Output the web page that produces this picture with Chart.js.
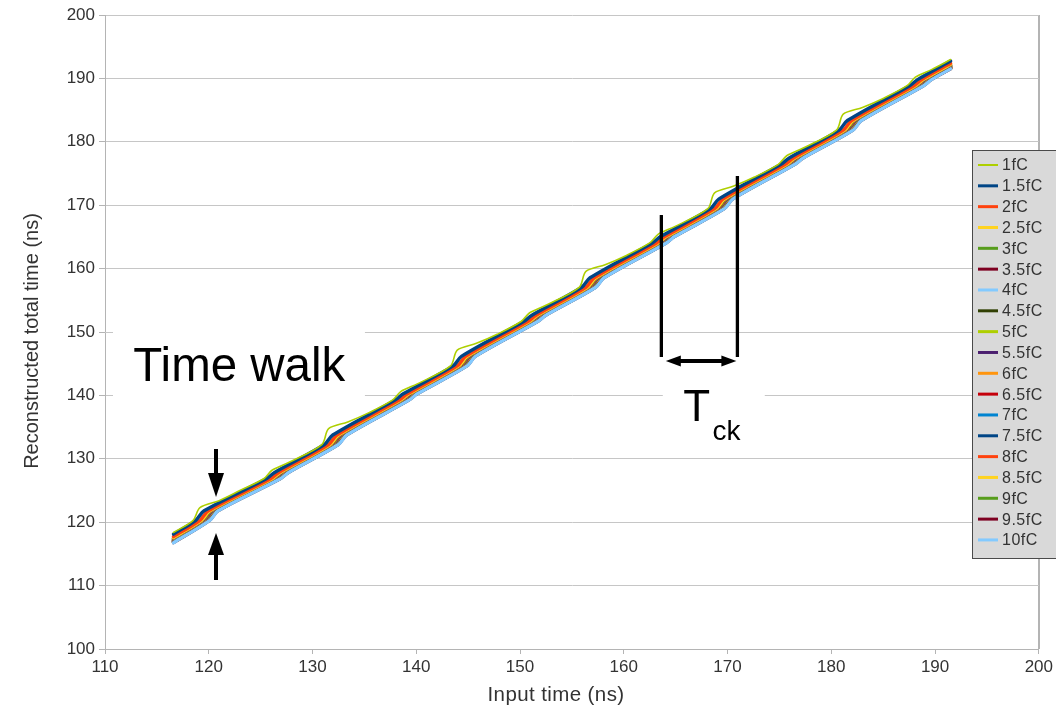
<!DOCTYPE html>
<html>
<head>
<meta charset="utf-8">
<script src="https://cdn.jsdelivr.net/npm/chart.js@4.4.1/dist/chart.umd.min.js"></script>
<style>
  html, body { margin: 0; padding: 0; background: #fff; }
  #wrap { position: relative; width: 1056px; height: 710px; }
  canvas { display: block; }
</style>
</head>
<body>
<div id="wrap"><canvas id="c" width="1056" height="710"></canvas></div>
<script>
// ---- data -------------------------------------------------------------
const qLabels = ['1fC','1.5fC','2fC','2.5fC','3fC','3.5fC','4fC','4.5fC','5fC','5.5fC',
                 '6fC','6.5fC','7fC','7.5fC','8fC','8.5fC','9fC','9.5fC','10fC'];

// input-time scan range (ns)
const scanRange = [116.6, 191.5];

// 1fC: input time (ns) and reconstructed total time (ns)
const input1fC = [116.6, 118.5, 119.15, 121.0, 123.0, 125.3, 126.1, 127.7,
                  130.9, 131.55, 133.4, 135.4, 137.7, 138.5, 140.1,
                  143.3, 143.95, 145.8, 147.8, 150.1, 150.9, 152.5,
                  155.7, 156.35, 158.2, 160.2, 162.5, 163.3, 164.9,
                  168.1, 168.75, 170.6, 172.6, 174.9, 175.7, 177.3,
                  180.5, 181.15, 183.0, 185.0, 187.3, 188.1, 189.7, 191.5];
const recon1fC = [118.38, 120.30, 122.30, 123.40, 125.00, 126.85, 128.20, 129.42,
                  132.25, 134.75, 135.81, 137.24, 139.25, 140.60, 141.82,
                  144.65, 147.15, 148.21, 149.64, 151.65, 153.00, 154.22,
                  157.05, 159.55, 160.61, 162.04, 164.05, 165.40, 166.62,
                  169.45, 171.95, 173.01, 174.44, 176.45, 177.80, 179.02,
                  181.85, 184.35, 185.41, 186.84, 188.85, 190.20, 191.42, 192.97];

// reconstructed time at the corners of each clock step (ns), shared by 1.5fC..10fC
const stairRecon = [120.30, 121.80, 126.85, 127.85, 132.25, 133.75, 139.25, 140.25,
                    144.65, 146.15, 151.65, 152.65, 157.05, 158.55, 164.05, 165.05,
                    169.45, 170.95, 176.45, 177.45, 181.85, 183.35, 188.85, 189.85];

// reconstructed time at the first / last input time, 1.5fC..10fC
const reconStart = [118.12, 117.72, 117.57, 117.45, 117.35, 117.27, 117.19, 117.13, 117.08,
                    117.03, 116.99, 116.95, 116.91, 116.88, 116.85, 116.82, 116.79, 116.76];
const reconEnd   = [192.74, 192.37, 192.23, 192.12, 192.03, 191.96, 191.89, 191.84, 191.79,
                    191.75, 191.71, 191.67, 191.64, 191.61, 191.58, 191.56, 191.53, 191.50];

// input time (ns) at which each charge reaches the step corners
const in1p5 = [118.75, 119.55, 125.55, 126.35, 131.15, 131.95, 137.95, 138.75, 143.55, 144.35, 150.35, 151.15,
               155.95, 156.75, 162.75, 163.55, 168.35, 169.15, 175.15, 175.95, 180.75, 181.55, 187.55, 188.35];
const in2   = [119.15, 119.95, 125.95, 126.75, 131.55, 132.35, 138.35, 139.15, 143.95, 144.75, 150.75, 151.55,
               156.35, 157.15, 163.15, 163.95, 168.75, 169.55, 175.55, 176.35, 181.15, 181.95, 187.95, 188.75];
const in2p5 = [119.3, 120.1, 126.1, 126.9, 131.7, 132.5, 138.5, 139.3, 144.1, 144.9, 150.9, 151.7,
               156.5, 157.3, 163.3, 164.1, 168.9, 169.7, 175.7, 176.5, 181.3, 182.1, 188.1, 188.9];
const in3   = [119.42, 120.22, 126.22, 127.02, 131.82, 132.62, 138.62, 139.42, 144.22, 145.02, 151.02, 151.82,
               156.62, 157.42, 163.42, 164.22, 169.02, 169.82, 175.82, 176.62, 181.42, 182.22, 188.22, 189.02];
const in3p5 = [119.52, 120.32, 126.32, 127.12, 131.92, 132.72, 138.72, 139.52, 144.32, 145.12, 151.12, 151.92,
               156.72, 157.52, 163.52, 164.32, 169.12, 169.92, 175.92, 176.72, 181.52, 182.32, 188.32, 189.12];
const in4   = [119.6, 120.4, 126.4, 127.2, 132.0, 132.8, 138.8, 139.6, 144.4, 145.2, 151.2, 152.0,
               156.8, 157.6, 163.6, 164.4, 169.2, 170.0, 176.0, 176.8, 181.6, 182.4, 188.4, 189.2];
const in4p5 = [119.67, 120.47, 126.47, 127.27, 132.07, 132.87, 138.87, 139.67, 144.47, 145.27, 151.27, 152.07,
               156.87, 157.67, 163.67, 164.47, 169.27, 170.07, 176.07, 176.87, 181.67, 182.47, 188.47, 189.27];
const in5   = [119.73, 120.53, 126.53, 127.33, 132.13, 132.93, 138.93, 139.73, 144.53, 145.33, 151.33, 152.13,
               156.93, 157.73, 163.73, 164.53, 169.33, 170.13, 176.13, 176.93, 181.73, 182.53, 188.53, 189.33];
const in5p5 = [119.78, 120.58, 126.58, 127.38, 132.18, 132.98, 138.98, 139.78, 144.58, 145.38, 151.38, 152.18,
               156.98, 157.78, 163.78, 164.58, 169.38, 170.18, 176.18, 176.98, 181.78, 182.58, 188.58, 189.38];
const in6   = [119.83, 120.63, 126.63, 127.43, 132.23, 133.03, 139.03, 139.83, 144.63, 145.43, 151.43, 152.23,
               157.03, 157.83, 163.83, 164.63, 169.43, 170.23, 176.23, 177.03, 181.83, 182.63, 188.63, 189.43];
const in6p5 = [119.87, 120.67, 126.67, 127.47, 132.27, 133.07, 139.07, 139.87, 144.67, 145.47, 151.47, 152.27,
               157.07, 157.87, 163.87, 164.67, 169.47, 170.27, 176.27, 177.07, 181.87, 182.67, 188.67, 189.47];
const in7   = [119.91, 120.71, 126.71, 127.51, 132.31, 133.11, 139.11, 139.91, 144.71, 145.51, 151.51, 152.31,
               157.11, 157.91, 163.91, 164.71, 169.51, 170.31, 176.31, 177.11, 181.91, 182.71, 188.71, 189.51];
const in7p5 = [119.95, 120.75, 126.75, 127.55, 132.35, 133.15, 139.15, 139.95, 144.75, 145.55, 151.55, 152.35,
               157.15, 157.95, 163.95, 164.75, 169.55, 170.35, 176.35, 177.15, 181.95, 182.75, 188.75, 189.55];
const in8   = [119.98, 120.78, 126.78, 127.58, 132.38, 133.18, 139.18, 139.98, 144.78, 145.58, 151.58, 152.38,
               157.18, 157.98, 163.98, 164.78, 169.58, 170.38, 176.38, 177.18, 181.98, 182.78, 188.78, 189.58];
const in8p5 = [120.01, 120.81, 126.81, 127.61, 132.41, 133.21, 139.21, 140.01, 144.81, 145.61, 151.61, 152.41,
               157.21, 158.01, 164.01, 164.81, 169.61, 170.41, 176.41, 177.21, 182.01, 182.81, 188.81, 189.61];
const in9   = [120.04, 120.84, 126.84, 127.64, 132.44, 133.24, 139.24, 140.04, 144.84, 145.64, 151.64, 152.44,
               157.24, 158.04, 164.04, 164.84, 169.64, 170.44, 176.44, 177.24, 182.04, 182.84, 188.84, 189.64];
const in9p5 = [120.07, 120.87, 126.87, 127.67, 132.47, 133.27, 139.27, 140.07, 144.87, 145.67, 151.67, 152.47,
               157.27, 158.07, 164.07, 164.87, 169.67, 170.47, 176.47, 177.27, 182.07, 182.87, 188.87, 189.67];
const in10  = [120.1, 120.9, 126.9, 127.7, 132.5, 133.3, 139.3, 140.1, 144.9, 145.7, 151.7, 152.5,
               157.3, 158.1, 164.1, 164.9, 169.7, 170.5, 176.5, 177.3, 182.1, 182.9, 188.9, 189.7];

// axis ticks
const xTicks = [110, 120, 130, 140, 150, 160, 170, 180, 190, 200];
const yTicks = [100, 110, 120, 130, 140, 150, 160, 170, 180, 190, 200];

// ---- styles -----------------------------------------------------------
const lineColors = ['#aecf00','#004586','#ff420e','#ffd320','#579d1c','#7e0021','#83caff','#314004',
                    '#aecf00','#4b1f6f','#ff950e','#c5000b','#0084d1','#004586','#ff420e','#ffd320',
                    '#579d1c','#7e0021','#83caff'];
const FONT = "'Liberation Sans', Arial, Helvetica, sans-serif";
const GRID = '#c6c6c6';
const AXIS = '#b4b4b4';
const TEXT = '#333333';

// ---- build datasets ---------------------------------------------------
const cornerInputs = [in1p5, in2, in2p5, in3, in3p5, in4, in4p5, in5, in5p5, in6,
                      in6p5, in7, in7p5, in8, in8p5, in9, in9p5, in10];
function pairs(xs, ys) { return xs.map((v, i) => ({ x: v, y: ys[i] })); }

// paint order: the low charges (1fC..2.5fC) lie on top; among the rest,
// higher charges are painted over lower ones
function paintOrder(i) { return i < 4 ? i : 4 + (qLabels.length - 1 - i); }

const datasets = qLabels.map((q, i) => {
  let pts;
  if (i === 0) {
    pts = pairs(input1fC, recon1fC);
  } else {
    const xs = [scanRange[0], ...cornerInputs[i - 1], scanRange[1]];
    const ys = [reconStart[i - 1], ...stairRecon, reconEnd[i - 1]];
    pts = pairs(xs, ys);
  }
  return {
    label: q,
    data: pts,
    order: paintOrder(i),
    borderColor: lineColors[i],
    backgroundColor: lineColors[i],
    borderWidth: i === 0 ? 1.6 : 3.4,
    pointRadius: 0,
    tension: 0.3,
    fill: false,
    borderJoinStyle: 'round',
    borderCapStyle: 'round'
  };
});

// ---- annotations (in data units) --------------------------------------
const walkBox  = { x0: 110.77, x1: 135.05, y0: 150.95, y1: 139.43 };
const tckBox   = { x0: 163.76, x1: 173.59, y0: 142.74, y1: 131.70 };
const walkText = { x: 112.73, y: 142.27 };
const walkDown = { x: 120.70, tail: 131.55, tip: 123.97 };
const walkUp   = { x: 120.70, tail: 110.88, tip: 118.30 };
const ckLeft   = { x: 163.62, top: 168.45, bottom: 146.06 };
const ckRight  = { x: 170.95, top: 174.61, bottom: 146.06 };
const ckArrow  = { y: 145.43, x0: 164.05, x1: 170.85 };
const ckText   = { tx: 165.72, ty: 135.96, sx: 168.54, sy: 132.97 };

function arrowHead(ctx, tx, ty, dx, dy, len, half) {
  // tip at (tx,ty), pointing along unit (dx,dy)
  const bx = tx - dx * len, by = ty - dy * len;
  ctx.beginPath();
  ctx.moveTo(tx, ty);
  ctx.lineTo(bx - dy * half, by + dx * half);
  ctx.lineTo(bx + dy * half, by - dx * half);
  ctx.closePath();
  ctx.fill();
}

const annotate = {
  id: 'annotate',
  beforeDatasetsDraw(chart) {
    const { ctx, scales: { x, y } } = chart;
    ctx.save();
    ctx.fillStyle = '#ffffff';
    for (const b of [walkBox, tckBox]) {
      const px0 = x.getPixelForValue(b.x0), px1 = x.getPixelForValue(b.x1);
      const py0 = y.getPixelForValue(b.y0), py1 = y.getPixelForValue(b.y1);
      ctx.fillRect(px0, py0, px1 - px0, py1 - py0);
    }
    ctx.restore();
  },
  afterDatasetsDraw(chart) {
    const { ctx, scales: { x, y } } = chart;
    ctx.save();
    ctx.fillStyle = '#000';
    ctx.strokeStyle = '#000';

    // Time walk label and arrows
    ctx.font = '47.5px ' + FONT;
    ctx.textBaseline = 'alphabetic';
    ctx.textAlign = 'left';
    ctx.fillText('Time walk', x.getPixelForValue(walkText.x), y.getPixelForValue(walkText.y));

    ctx.lineWidth = 4;
    ctx.lineCap = 'butt';
    const ax = x.getPixelForValue(walkDown.x);
    let t0 = y.getPixelForValue(walkDown.tail), t1 = y.getPixelForValue(walkDown.tip);
    ctx.beginPath(); ctx.moveTo(ax, t0); ctx.lineTo(ax, t1 - 20); ctx.stroke();
    arrowHead(ctx, ax, t1, 0, 1, 24, 8);
    t0 = y.getPixelForValue(walkUp.tail); t1 = y.getPixelForValue(walkUp.tip);
    ctx.beginPath(); ctx.moveTo(ax, t0); ctx.lineTo(ax, t1 + 20); ctx.stroke();
    arrowHead(ctx, ax, t1, 0, -1, 22, 8);

    // clock-period markers
    ctx.lineWidth = 3.3;
    for (const m of [ckLeft, ckRight]) {
      const px = x.getPixelForValue(m.x);
      ctx.beginPath();
      ctx.moveTo(px, y.getPixelForValue(m.top));
      ctx.lineTo(px, y.getPixelForValue(m.bottom));
      ctx.stroke();
    }
    const ay = y.getPixelForValue(ckArrow.y);
    const ax0 = x.getPixelForValue(ckArrow.x0), ax1 = x.getPixelForValue(ckArrow.x1);
    ctx.lineWidth = 4;
    ctx.beginPath(); ctx.moveTo(ax0 + 12, ay); ctx.lineTo(ax1 - 12, ay); ctx.stroke();
    arrowHead(ctx, ax0, ay, -1, 0, 15, 5.5);
    arrowHead(ctx, ax1, ay, 1, 0, 15, 5.5);

    ctx.font = '44px ' + FONT;
    ctx.fillText('T', x.getPixelForValue(ckText.tx), y.getPixelForValue(ckText.ty));
    ctx.font = '28px ' + FONT;
    ctx.fillText('ck', x.getPixelForValue(ckText.sx), y.getPixelForValue(ckText.sy));
    ctx.restore();
  },
  afterDraw(chart) {
    const { ctx, chartArea: ca } = chart;
    ctx.save();
    // right frame line of the plot
    ctx.strokeStyle = AXIS;
    ctx.lineWidth = 1;
    ctx.beginPath();
    ctx.moveTo(Math.round(ca.right) + 0.5, ca.top);
    ctx.lineTo(Math.round(ca.right) + 0.5, ca.bottom);
    ctx.stroke();

    // axis titles
    ctx.fillStyle = TEXT;
    ctx.textAlign = 'center';
    ctx.textBaseline = 'middle';
    ctx.font = '20.5px ' + FONT;
    if ('letterSpacing' in ctx) ctx.letterSpacing = '0.4px';
    ctx.fillText('Input time (ns)', 556, 695);
    if ('letterSpacing' in ctx) ctx.letterSpacing = '0px';
    ctx.font = '20px ' + FONT;
    ctx.save();
    ctx.translate(32, 341);
    ctx.rotate(-Math.PI / 2);
    ctx.fillText('Reconstructed total time (ns)', 0, 0);
    ctx.restore();

    // legend
    const lx = 972, ly = 150, lw = 100, lh = 408;
    ctx.fillStyle = '#d9d9d9';
    ctx.fillRect(lx, ly, lw, lh);
    ctx.strokeStyle = '#4a4a4a';
    ctx.lineWidth = 1;
    ctx.strokeRect(lx + 0.5, ly + 0.5, lw, lh);
    ctx.font = '16px ' + FONT;
    ctx.textAlign = 'left';
    ctx.textBaseline = 'middle';
    if ('letterSpacing' in ctx) ctx.letterSpacing = '0.5px';
    qLabels.forEach((q, i) => {
      const ry = 165 + i * 20.83;
      ctx.strokeStyle = lineColors[i];
      ctx.lineWidth = i === 0 ? 2 : 3;
      ctx.beginPath();
      ctx.moveTo(978, ry);
      ctx.lineTo(998, ry);
      ctx.stroke();
      ctx.fillStyle = TEXT;
      ctx.fillText(q, 1002, ry + 1);
    });
    ctx.restore();
  }
};

Chart.defaults.font.family = FONT;

new Chart(document.getElementById('c'), {
  type: 'line',
  data: { datasets },
  options: {
    responsive: false,
    devicePixelRatio: 1,
    animation: false,
    parsing: false,
    layout: { padding: { left: 0, right: 17, top: 15, bottom: 0 } },
    plugins: { legend: { display: false }, tooltip: { enabled: false } },
    scales: {
      x: {
        type: 'linear',
        min: xTicks[0], max: xTicks[xTicks.length - 1],
        afterBuildTicks: s => { s.ticks = xTicks.map(v => ({ value: v })); },
        ticks: { color: TEXT, font: { size: 17 }, padding: 3, maxRotation: 0, autoSkip: false },
        grid: {
          color: c => (c.tick && c.tick.value === xTicks[xTicks.length - 1]) ? AXIS : 'rgba(0,0,0,0)',
          tickColor: AXIS, tickLength: 5
        },
        border: { color: AXIS },
        afterFit: s => { s.height = 61; }
      },
      y: {
        type: 'linear',
        min: yTicks[0], max: yTicks[yTicks.length - 1],
        afterBuildTicks: s => { s.ticks = yTicks.map(v => ({ value: v })); },
        ticks: { color: TEXT, font: { size: 17 }, padding: 4, autoSkip: false },
        grid: { color: GRID, tickColor: AXIS, tickLength: 6 },
        border: { color: AXIS },
        afterFit: s => { s.width = 105; }
      }
    }
  },
  plugins: [annotate]
});
</script>
</body>
</html>
